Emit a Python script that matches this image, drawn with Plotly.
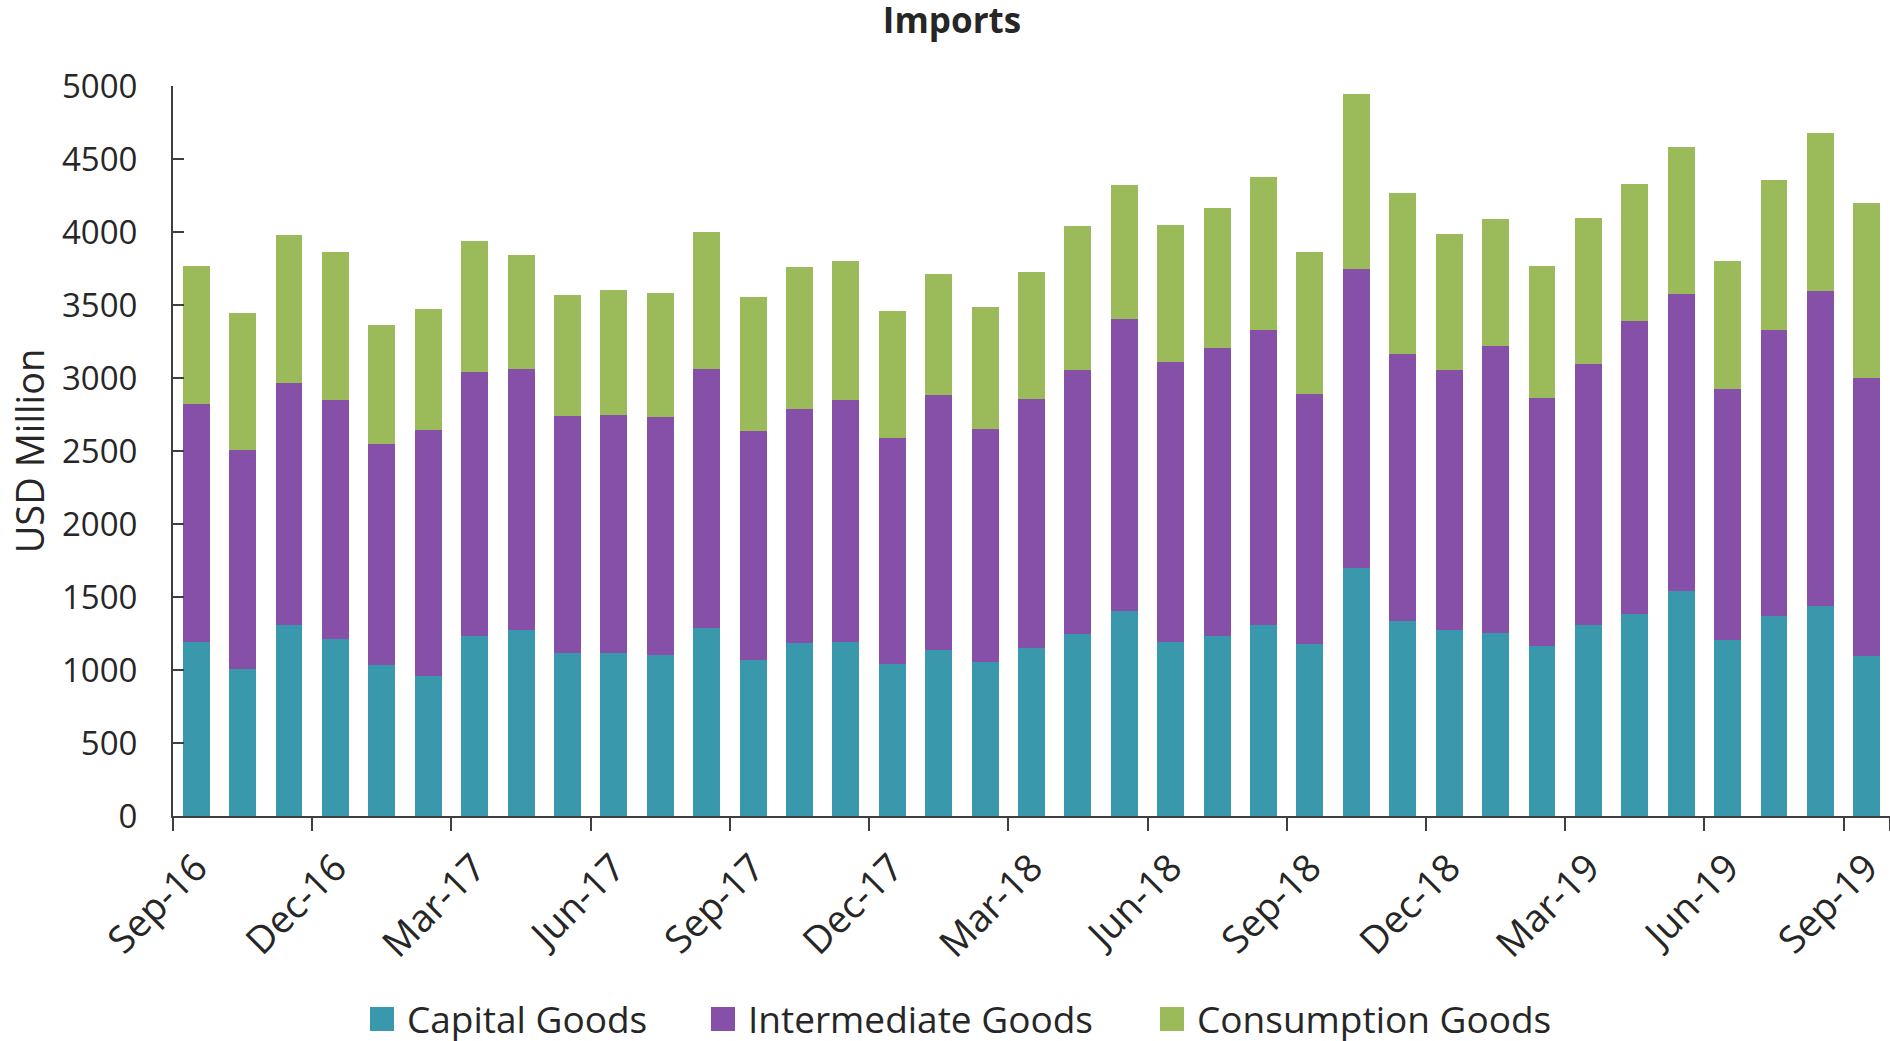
import plotly.graph_objects as go

# Monthly import categories, Sep-16 .. Sep-19
months = [
    "Sep-16", "Oct-16", "Nov-16", "Dec-16", "Jan-17", "Feb-17", "Mar-17", "Apr-17",
    "May-17", "Jun-17", "Jul-17", "Aug-17", "Sep-17", "Oct-17", "Nov-17", "Dec-17",
    "Jan-18", "Feb-18", "Mar-18", "Apr-18", "May-18", "Jun-18", "Jul-18", "Aug-18",
    "Sep-18", "Oct-18", "Nov-18", "Dec-18", "Jan-19", "Feb-19", "Mar-19", "Apr-19",
    "May-19", "Jun-19", "Jul-19", "Aug-19", "Sep-19",
]

# USD million
capital_goods = [
    1191, 1010, 1307, 1210, 1033, 958, 1232, 1277, 1119, 1116, 1104, 1289, 1071,
    1187, 1191, 1041, 1138, 1052, 1150, 1247, 1405, 1195, 1232, 1307, 1176, 1698,
    1337, 1277, 1255, 1165, 1307, 1382, 1540, 1206, 1367, 1435, 1097,
]
intermediate_goods = [
    1630, 1496, 1661, 1638, 1518, 1683, 1807, 1785, 1623, 1630, 1631, 1773, 1566,
    1604, 1660, 1547, 1743, 1596, 1709, 1807, 2002, 1912, 1972, 2021, 1713, 2047,
    1826, 1777, 1961, 1698, 1788, 2010, 2033, 1717, 1965, 2160, 1901,
]
consumption_goods = [
    947, 939, 1014, 1014, 815, 834, 898, 781, 827, 860, 849, 935, 917,
    966, 951, 872, 831, 838, 868, 988, 913, 943, 958, 1048, 977, 1199,
    1105, 932, 875, 901, 1003, 936, 1010, 879, 1026, 1086, 1198,
]

# Quarterly labels on the category axis
tick_labels = months[::3]

series_names = ["Capital Goods", "Intermediate Goods", "Consumption Goods"]
series_colors = ["#3A98AC", "#8750A8", "#9BBA59"]
series_values = [capital_goods, intermediate_goods, consumption_goods]

FONT = "Open Sans"
TEXT = "#262626"
AXIS = "#3F3F3F"
W, H = 1890, 1041
M_L, M_R, M_T, M_B = 173, 0, 86, 225
PLOT_W = W - M_L - M_R
PLOT_H = H - M_T - M_B

# Legend layout (pixels): left edge of each swatch, swatch size, row centre
LEGEND_SWATCH_LEFT = [370, 711, 1160]
LEGEND_SWATCH = 24
LEGEND_TEXT_GAP = 11
LEGEND_ROW_Y = 1019


def px_to_paper_x(px):
    return (px - M_L) / PLOT_W


def px_to_paper_y(py):
    return (H - M_B - py) / PLOT_H


fig = go.Figure()
for name, values, color in zip(series_names, series_values, series_colors):
    fig.add_trace(go.Bar(
        x=months, y=values, name=name, showlegend=False,
        marker=dict(color=color, line=dict(width=0)),
    ))

# Legend drawn as swatches + labels below the axis
for name, color, left in zip(series_names, series_colors, LEGEND_SWATCH_LEFT):
    fig.add_shape(
        type="rect", xref="paper", yref="paper",
        x0=px_to_paper_x(left), x1=px_to_paper_x(left + LEGEND_SWATCH),
        y0=px_to_paper_y(LEGEND_ROW_Y + LEGEND_SWATCH / 2),
        y1=px_to_paper_y(LEGEND_ROW_Y - LEGEND_SWATCH / 2),
        fillcolor=color, line=dict(width=0),
    )
    fig.add_annotation(
        text=name, xref="paper", yref="paper",
        x=px_to_paper_x(left + LEGEND_SWATCH + LEGEND_TEXT_GAP),
        y=px_to_paper_y(LEGEND_ROW_Y),
        xanchor="left", yanchor="middle", showarrow=False,
        font=dict(size=37, family=FONT, color=TEXT),
    )

fig.update_layout(
    barmode="stack",
    bargap=0.42,
    width=W, height=H,
    margin=dict(l=M_L, r=M_R, t=M_T, b=M_B),
    paper_bgcolor="white", plot_bgcolor="white",
    font=dict(family=FONT, color=TEXT, size=32),
    title=dict(
        text="<b>Imports</b>", x=952 / W, xref="container", xanchor="center",
        y=1 - 21 / H, yref="container", yanchor="middle",
        font=dict(size=35, family=FONT, color=TEXT),
    ),
    showlegend=False,
)

fig.update_xaxes(
    type="category",
    categoryorder="array", categoryarray=months,
    tickmode="array", tickvals=tick_labels, ticktext=tick_labels,
    tickson="boundaries",
    ticks="outside", ticklen=13, tickwidth=2, tickcolor=AXIS,
    tickangle=-45,
    tickfont=dict(size=38, family=FONT, color=TEXT),
    ticklabelstandoff=12,
    showline=True, linecolor=AXIS, linewidth=2,
    showgrid=False, zeroline=False,
    range=[-0.5, 36.5],
)
fig.update_yaxes(
    range=[0, 5000], tickmode="linear", tick0=0, dtick=500,
    ticks="inside", ticklen=11, tickwidth=2, tickcolor=AXIS,
    tickfont=dict(size=33, family=FONT, color=TEXT),
    ticklabelstandoff=27,
    showline=True, linecolor=AXIS, linewidth=2,
    showgrid=False, zeroline=False,
    title=dict(text="USD Million", font=dict(size=38, family=FONT, color=TEXT), standoff=6),
)

fig.write_html("out.html")
